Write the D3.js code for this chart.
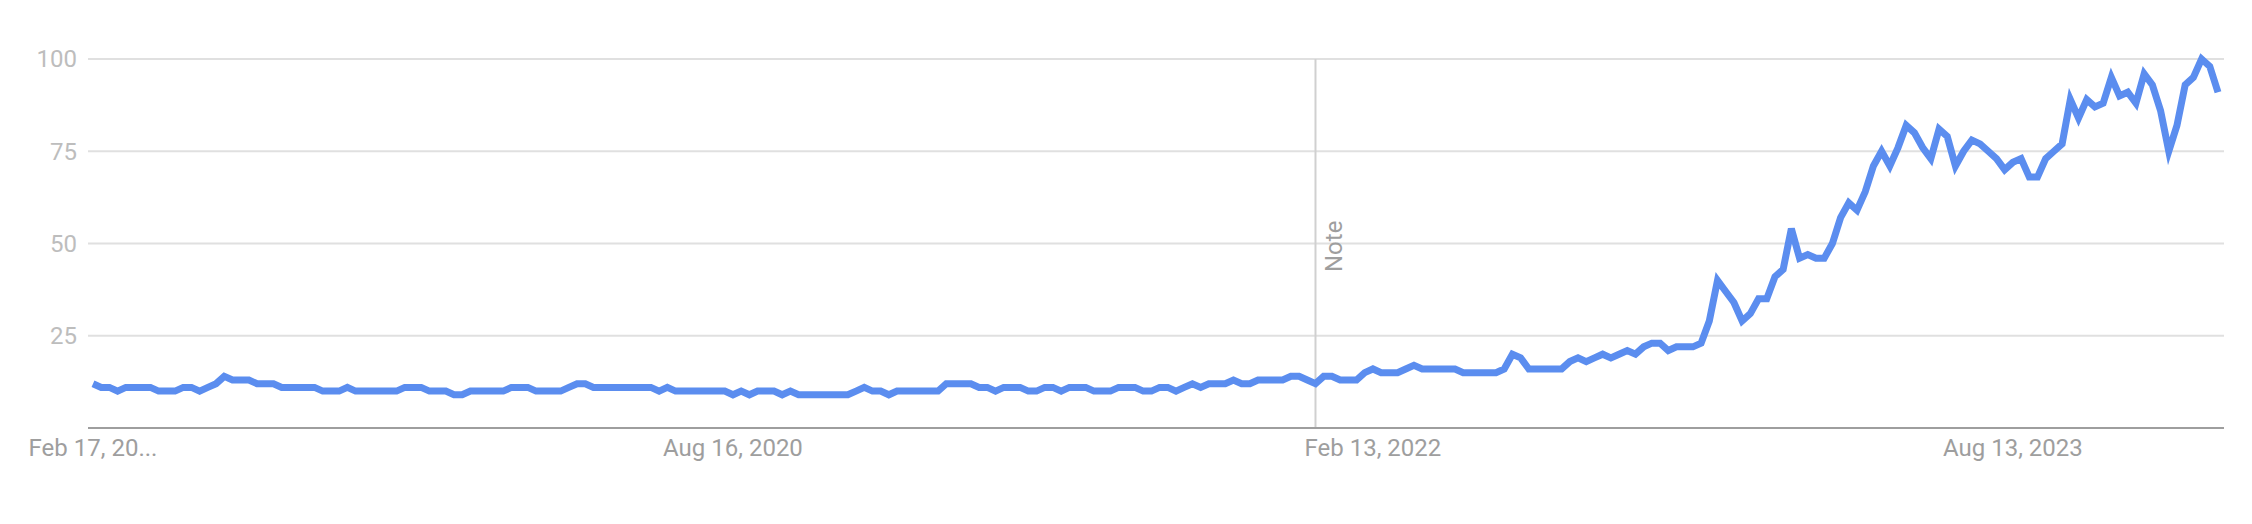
<!DOCTYPE html>
<html>
<head>
<meta charset="utf-8">
<script src="https://cdn.jsdelivr.net/npm/d3@7"></script>
<style>
  html, body { margin: 0; padding: 0; background: #ffffff; }
  svg { display: block; }
  text { font-family: Roboto, "Noto Sans", Arial, sans-serif; }
</style>
</head>
<body>
<svg id="chart" width="2252" height="524"></svg>
<script>
// ---- data ----
const startDate = "2019-02-17";           // first weekly point
const values = [
  12,11,11,10,11,11,11,11,10,10, 10,11,11,10,11,12,14,13,13,13,
  12,12,12,11,11,11,11,11,10,10, 10,11,10,10,10,10,10,10,11,11,
  11,10,10,10,9,9,10,10,10,10,   10,11,11,11,10,10,10,10,11,12,
  12,11,11,11,11,11,11,11,11,10, 11,10,10,10,10,10,10,10,9,10,
  9,10,10,10,9,10,9,9,9,9,       9,9,9,10,11,10,10,9,10,10,
  10,10,10,10,12,12,12,12,11,11, 10,11,11,11,10,10,11,11,10,11,
  11,11,10,10,10,11,11,11,10,10, 11,11,10,11,12,11,12,12,12,13,
  12,12,13,13,13,13,14,14,13,12, 14,14,13,13,13,15,16,15,15,15,
  16,17,16,16,16,16,16,15,15,15, 15,15,16,20,19,16,16,16,16,16,
  18,19,18,19,20,19,20,21,20,22, 23,23,21,22,22,22,23,29,40,37,
  34,29,31,35,35,41,43,54,46,47, 46,46,50,57,61,59,64,71,75,71,
  76,82,80,76,73,81,79,71,75,78, 77,75,73,70,72,73,68,68,73,75,
  77,89,84,89,87,88,95,90,91,88, 96,93,86,75,82,93,95,100,98,91
];
const yTicks = [25, 50, 75, 100];
const xTickDates = ["2019-02-17", "2020-08-16", "2022-02-13", "2023-08-13"];
const xTickLabels = ["Feb 17, 20...", "Aug 16, 2020", "Feb 13, 2022", "Aug 13, 2023"];
const noteDate = "2021-12-26";
const noteText = "Note";

// ---- layout ----
const svg = d3.select("#chart");
const gridLeft = 88, gridRight = 2224;
const parse = d3.utcParse("%Y-%m-%d");
const t0 = parse(startDate);
const dates = values.map((v, i) => d3.utcDay.offset(t0, 7 * i));

const x = d3.scaleUtc()
  .domain([dates[0], dates[dates.length - 1]])
  .range([93, 2218]);
const y = d3.scaleLinear().domain([0, 100]).range([428, 59]);

// gridlines
svg.append("g").selectAll("line").data(yTicks).join("line")
  .attr("x1", gridLeft).attr("x2", gridRight)
  .attr("y1", d => y(d)).attr("y2", d => y(d))
  .attr("stroke", "#e0e0e0").attr("stroke-width", 2);

// y labels
svg.append("g").selectAll("text").data(yTicks).join("text")
  .attr("x", 77).attr("y", d => y(d))
  .attr("dy", "0.35em")
  .attr("text-anchor", "end")
  .attr("font-size", 24)
  .attr("fill", "#bdbdbd")
  .text(d => d);

// note line
const nx = x(parse(noteDate));
svg.append("line")
  .attr("x1", nx).attr("x2", nx)
  .attr("y1", y(100)).attr("y2", y(0))
  .attr("stroke", "#d0d0d0").attr("stroke-width", 2);
svg.append("text")
  .attr("transform", `translate(${nx + 27},${272}) rotate(-90)`)
  .attr("font-size", 24)
  .attr("fill", "#9e9e9e")
  .text(noteText);

// baseline
svg.append("line")
  .attr("x1", gridLeft).attr("x2", gridRight)
  .attr("y1", y(0)).attr("y2", y(0))
  .attr("stroke", "#9e9e9e").attr("stroke-width", 2);

// x labels
svg.append("g").selectAll("text").data(xTickDates).join("text")
  .attr("x", d => x(parse(d)))
  .attr("y", 456)
  .attr("text-anchor", "middle")
  .attr("font-size", 24)
  .attr("fill", "#9e9e9e")
  .text((d, i) => xTickLabels[i]);

// line
const line = d3.line()
  .x((d, i) => x(dates[i]))
  .y(d => y(d));
svg.append("path")
  .datum(values)
  .attr("d", line)
  .attr("fill", "none")
  .attr("stroke", "#5b8def")
  .attr("stroke-width", 7)
  .attr("stroke-linejoin", "miter");
</script>
</body>
</html>
